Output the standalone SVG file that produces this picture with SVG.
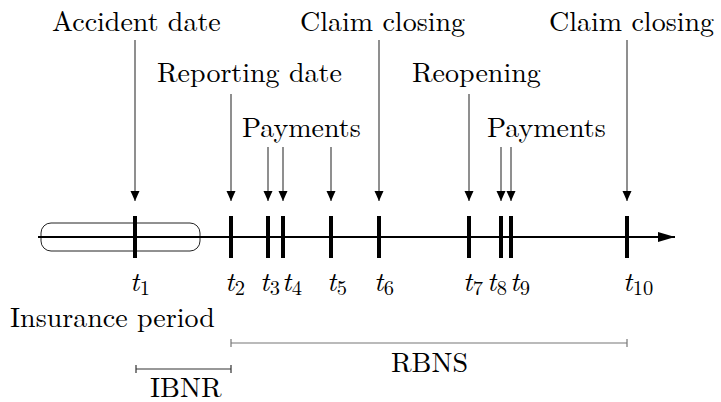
<svg xmlns="http://www.w3.org/2000/svg" width="721" height="402" viewBox="0 0 721 402">
<style>
text{font-family:'Latin Modern Roman','Liberation Serif',serif;font-size:28px;fill:#000}
.t{font-style:italic}
.sub{font-size:20.5px;font-style:normal}
.tick{stroke:#000;stroke-width:4}
.arr{stroke:#333;stroke-width:1.1;fill:none;marker-end:url(#ah)}
</style>
<defs>
<marker id="ah" markerUnits="userSpaceOnUse" markerWidth="10" markerHeight="12" viewBox="0 0 10 12" refX="10" refY="6" orient="auto">
<path d="M0,1.5 L10,6 L0,10.5 Z" fill="#000"/>
</marker>
<marker id="ah2" markerUnits="userSpaceOnUse" markerWidth="18" markerHeight="12" viewBox="0 0 18 12" refX="17" refY="6" orient="auto">
<path d="M0,1 L17,6 L0,11 Z" fill="#000"/>
</marker>
</defs>
<g id="timeline">
<rect x="41" y="223" width="159" height="28" rx="10" ry="10" fill="none" stroke="#222" stroke-width="1"/>
<line x1="38" y1="237" x2="675" y2="237" stroke="#000" stroke-width="2" marker-end="url(#ah2)"/>
<line class="tick" x1="135" y1="216" x2="135" y2="258"/>
<line class="tick" x1="231" y1="216" x2="231" y2="258"/>
<line class="tick" x1="268" y1="216" x2="268" y2="258"/>
<line class="tick" x1="283" y1="216" x2="283" y2="258"/>
<line class="tick" x1="331" y1="216" x2="331" y2="258"/>
<line class="tick" x1="379" y1="216" x2="379" y2="258"/>
<line class="tick" x1="469" y1="216" x2="469" y2="258"/>
<line class="tick" x1="501" y1="216" x2="501" y2="258"/>
<line class="tick" x1="511" y1="216" x2="511" y2="258"/>
<line class="tick" x1="627" y1="216" x2="627" y2="258"/>
</g>
<g id="tlabels">
<text x="130" y="291"><tspan class="t">t</tspan><tspan class="sub" dx="0.5" dy="4">1</tspan></text>
<text x="225" y="291"><tspan class="t">t</tspan><tspan class="sub" dx="0.5" dy="4">2</tspan></text>
<text x="260" y="291"><tspan class="t">t</tspan><tspan class="sub" dx="0.5" dy="4">3</tspan></text>
<text x="282" y="291"><tspan class="t">t</tspan><tspan class="sub" dx="0.5" dy="4">4</tspan></text>
<text x="327" y="291"><tspan class="t">t</tspan><tspan class="sub" dx="0.5" dy="4">5</tspan></text>
<text x="374" y="291"><tspan class="t">t</tspan><tspan class="sub" dx="0.5" dy="4">6</tspan></text>
<text x="463" y="291"><tspan class="t">t</tspan><tspan class="sub" dx="0.5" dy="4">7</tspan></text>
<text x="487" y="291"><tspan class="t">t</tspan><tspan class="sub" dx="0.5" dy="4">8</tspan></text>
<text x="510" y="291"><tspan class="t">t</tspan><tspan class="sub" dx="0.5" dy="4">9</tspan></text>
<text x="623" y="291"><tspan class="t">t</tspan><tspan class="sub" dx="0.5" dy="4">10</tspan></text>
</g>
<g id="connectors">
<line class="arr" x1="135" y1="40" x2="135" y2="201"/>
<line class="arr" x1="379" y1="40" x2="379" y2="201"/>
<line class="arr" x1="627" y1="40" x2="627" y2="201"/>
<line class="arr" x1="231" y1="94" x2="231" y2="201"/>
<line class="arr" x1="469" y1="94" x2="469" y2="201"/>
<line class="arr" x1="268" y1="147" x2="268" y2="201"/>
<line class="arr" x1="283" y1="147" x2="283" y2="201"/>
<line class="arr" x1="331" y1="147" x2="331" y2="201"/>
<line class="arr" x1="501" y1="147" x2="501" y2="201"/>
<line class="arr" x1="511" y1="147" x2="511" y2="201"/>
</g>
<g id="accident"><text x="52" y="31">Accident date</text></g>
<g id="closing1"><text x="300" y="31">Claim closing</text></g>
<g id="closing2"><text x="549" y="31">Claim closing</text></g>
<g id="reporting"><text x="157" y="82">Reporting date</text></g>
<g id="reopening"><text x="412" y="82">Reopening</text></g>
<g id="payments1"><text x="242" y="137">Payments</text></g>
<g id="payments2"><text x="487" y="137">Payments</text></g>
<g id="insurance"><text x="10" y="327">Insurance period</text></g>
<g id="rbns">
<path d="M231,343 H627 M231,339 V347 M627,339 V347" stroke="#777" stroke-width="1.2" fill="none"/>
<text x="391" y="372">RBNS</text>
</g>
<g id="ibnr">
<path d="M136,369 H231 M136,365 V373 M231,365 V373" stroke="#333" stroke-width="1.2" fill="none"/>
<text x="150" y="397">IBNR</text>
</g>
</svg>
